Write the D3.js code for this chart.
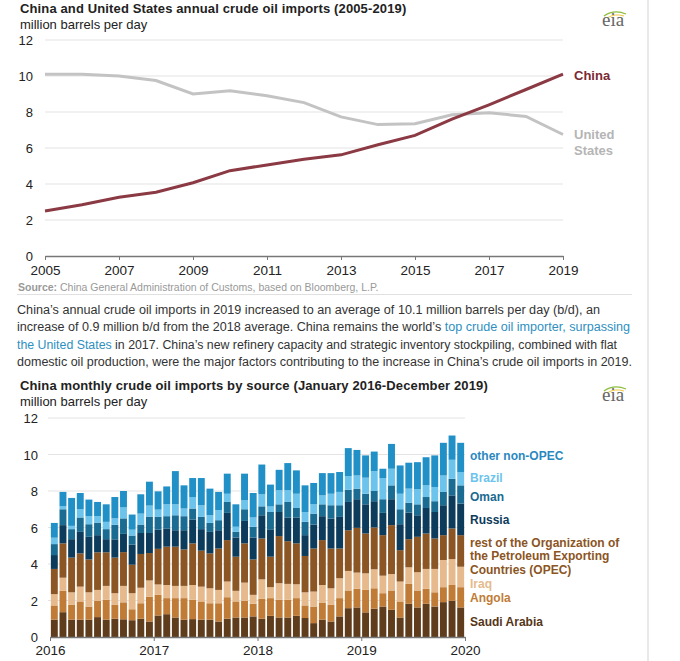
<!DOCTYPE html>
<html>
<head>
<meta charset="utf-8">
<script src="https://cdn.jsdelivr.net/npm/d3@7"></script>
<style>
  body { margin: 0; background: #fff; }
  svg { display: block; font-family: "Liberation Sans", Arial, sans-serif; }
</style>
</head>
<body>
<div id="containerDiv"></div>
<script>
// ---- annual imports (million b/d) ----
var years = [2005, 2006, 2007, 2008, 2009, 2010, 2011, 2012, 2013, 2014, 2015, 2016, 2017, 2018, 2019];
var chinaAnnual = [2.5, 2.85, 3.26, 3.54, 4.07, 4.74, 5.06, 5.37, 5.62, 6.18, 6.7, 7.6, 8.4, 9.25, 10.1];
var usAnnual = [10.1, 10.1, 10.0, 9.75, 9.0, 9.18, 8.9, 8.52, 7.73, 7.3, 7.35, 7.85, 7.96, 7.75, 6.75];
var yTicks1 = [0, 2, 4, 6, 8, 10, 12];
var xTicks1 = [2005, 2007, 2009, 2011, 2013, 2015, 2017, 2019];

// ---- monthly imports by source, Jan 2016 - Dec 2019 ----
var saudi = [0.95, 1.36, 0.95, 0.95, 0.95, 1.09, 0.95, 1.0, 0.97, 0.92, 1.0, 0.85,
             1.18, 1.25, 1.07, 0.95, 0.98, 0.95, 0.95, 0.85, 1.0, 1.07, 1.07, 1.13,
             1.0, 1.16, 1.07, 1.07, 1.16, 1.04, 0.76, 0.95, 0.85, 1.13, 1.58, 1.62,
             1.35, 1.55, 1.67, 1.49, 1.07, 1.82, 1.62, 1.82, 1.67, 1.91, 1.98, 1.62];
var angola = [0.78, 1.17, 0.81, 1.0, 0.72, 0.89, 1.09, 0.76, 0.93, 0.6, 0.85, 1.35,
              1.13, 0.88, 1.06, 1.18, 1.06, 1.0, 0.9, 1.0, 1.18, 0.88, 0.91, 0.69,
              1.09, 0.97, 0.97, 0.97, 0.97, 0.69, 0.91, 0.94, 0.91, 1.0, 0.97, 1.02,
              1.23, 1.12, 0.73, 1.06, 0.88, 1.09, 0.93, 0.82, 0.78, 0.82, 0.87, 1.11];
var iraq = [0.62, 0.72, 0.69, 0.81, 0.78, 0.6, 0.76, 0.64, 0.9, 0.88, 0.85, 0.9,
            0.57, 0.72, 0.67, 0.67, 0.81, 0.81, 0.82, 0.73, 0.86, 0.58, 1.0, 0.49,
            1.07, 0.6, 0.91, 0.87, 0.76, 0.72, 0.82, 0.96, 0.91, 1.09, 1.07, 0.89,
            0.91, 1.04, 0.96, 0.9, 1.09, 0.91, 1.0, 1.09, 1.28, 1.49, 1.42, 1.12];
var restOpec = [1.38, 1.88, 1.9, 1.82, 1.8, 2.06, 1.84, 1.95, 1.85, 1.56, 1.85, 1.5,
                1.95, 2.1, 2.15, 2.0, 2.28, 1.97, 1.91, 2.27, 2.27, 1.87, 2.15, 1.94,
                2.24, 1.67, 2.58, 2.34, 2.24, 1.99, 2.36, 2.46, 2.18, 1.63, 2.23, 2.45,
                2.18, 2.29, 2.22, 2.68, 1.72, 1.54, 1.94, 1.94, 1.67, 1.36, 1.68, 1.73];
var russia = [0.76, 1.0, 1.01, 1.18, 1.24, 0.94, 0.72, 1.0, 1.0, 1.1, 1.15, 1.1,
              1.05, 1.0, 0.9, 1.05, 1.31, 1.18, 1.18, 1.0, 1.49, 1.05, 1.23, 1.2,
              1.27, 1.5, 1.32, 1.3, 1.42, 1.14, 1.31, 1.31, 1.64, 1.73, 1.55, 1.57,
              1.6, 1.44, 1.22, 1.42, 1.42, 1.46, 1.18, 1.4, 1.45, 1.64, 1.81, 1.73];
var oman = [0.6, 0.87, 0.55, 0.79, 0.69, 0.69, 0.55, 0.8, 0.85, 0.5, 0.46, 0.9,
            0.7, 0.67, 0.82, 0.77, 0.6, 0.67, 0.49, 0.55, 0.6, 0.31, 0.64, 0.59,
            0.49, 0.95, 0.42, 0.85, 0.52, 0.73, 0.6, 0.65, 0.73, 0.64, 0.67, 0.58,
            0.58, 0.56, 0.75, 0.76, 0.82, 0.54, 0.6, 0.6, 0.59, 0.73, 0.91, 1.0];
var brazil = [0.35, 0.16, 0.18, 0.45, 0.44, 0.35, 0.4, 0.35, 0.6, 0.32, 0.6, 0.6,
              0.4, 0.65, 0.6, 0.42, 0.63, 0.64, 0.42, 0.55, 0.45, 0.28, 0.49, 0.51,
              0.66, 0.3, 0.77, 0.64, 0.78, 0.54, 0.51, 0.49, 0.63, 0.73, 0.75, 0.72,
              0.88, 1.09, 1.16, 0.91, 0.85, 0.77, 0.82, 0.64, 0.78, 0.9, 1.04, 0.73];
var otherNonOpec = [0.81, 0.79, 1.53, 0.89, 0.91, 0.78, 0.96, 1.17, 0.9, 0.83, 1.06, 1.31,
                    1.0, 0.98, 1.82, 1.27, 1.04, 1.49, 1.46, 1.0, 1.1, 1.23, 1.46, 1.34,
                    1.63, 1.2, 1.12, 1.49, 1.28, 1.46, 1.17, 1.22, 1.13, 1.09, 1.53, 1.4,
                    1.22, 1.07, 0.51, 1.36, 1.55, 1.42, 1.49, 1.54, 1.73, 1.79, 1.33, 1.6];
var yTicks2 = [0, 2, 4, 6, 8, 10, 12];
var yearLabels2 = ["2016", "2017", "2018", "2019", "2020"];

var seriesNames = ["Saudi Arabia", "Angola", "Iraq", "rest of OPEC", "Russia", "Oman", "Brazil", "other non-OPEC"];
var seriesValues = [saudi, angola, iraq, restOpec, russia, oman, brazil, otherNonOpec];
var seriesColors = ["#5f3c1b", "#c07c37", "#e6ba8c", "#8b5524", "#0c3b5b", "#1a6c92", "#6cc4ec", "#2190c7"];

var w = 680, h = 661;
var svg = d3.select("#containerDiv").append("svg").attr("width", w).attr("height", h);

// right border
svg.append("line").attr("x1", 648).attr("x2", 648).attr("y1", 0).attr("y2", h)
   .attr("stroke", "#e2e2e2").attr("stroke-width", 1.5);

function eiaLogo(x, y) {
  var g = svg.append("g").attr("transform", "translate(" + x + "," + y + ")");
  g.append("path").attr("d", "M2,-10 Q12,-17 24,-12").attr("fill", "none")
   .attr("stroke", "#8dbf3f").attr("stroke-width", 1.3);
  g.append("path").attr("d", "M5,-8 Q13,-13 22,-10").attr("fill", "none")
   .attr("stroke", "#f0c83c").attr("stroke-width", 1);
  g.append("text").text("eia").attr("font-family", "'Liberation Serif', 'DejaVu Serif', serif")
   .attr("font-size", "19px").attr("fill", "#666").attr("y", 0);
}

// ================= chart 1 =================
var x1 = d3.scaleLinear().domain([2005, 2019]).range([45, 563]);
var y1 = d3.scaleLinear().domain([0, 12]).range([256, 40]);

svg.append("text").attr("x", 20).attr("y", 13).text("China and United States annual crude oil imports (2005-2019)")
   .attr("font-weight", "bold").attr("font-size", "13px").attr("fill", "#222").attr("letter-spacing", "0.13px");
svg.append("text").attr("x", 20).attr("y", 29).text("million barrels per day")
   .attr("font-size", "13px").attr("fill", "#222");
eiaLogo(602, 26);

svg.append("g").selectAll("line").data(yTicks1.filter(function(d) { return d > 0; })).enter().append("line")
   .attr("x1", 45).attr("x2", 563)
   .attr("y1", function(d) { return y1(d); }).attr("y2", function(d) { return y1(d); })
   .attr("stroke", "#e3e3e3").attr("stroke-width", 1.2);

svg.append("g").selectAll("text").data(yTicks1).enter().append("text")
   .attr("x", 33).attr("y", function(d) { return y1(d) + 5; })
   .attr("text-anchor", "end").attr("font-size", "13px").attr("fill", "#222")
   .text(function(d) { return d; });

var xAxis1 = svg.append("g").attr("transform", "translate(0,256)")
   .call(d3.axisBottom(x1).tickValues(xTicks1).tickFormat(d3.format("d")).tickSize(4).tickSizeOuter(0));
xAxis1.select(".domain").attr("stroke", "#777").attr("stroke-width", 1.5);
xAxis1.selectAll(".tick line").attr("stroke", "#777");
xAxis1.selectAll(".tick text").attr("font-size", "13.5px").attr("fill", "#222").attr("dy", "0.9em")
   .attr("font-family", "'Liberation Sans', Arial, sans-serif");

var line1 = d3.line().x(function(d, i) { return x1(years[i]); }).y(function(d) { return y1(d); });
svg.append("path").datum(usAnnual).attr("d", line1).attr("fill", "none")
   .attr("stroke", "#c3c3c3").attr("stroke-width", 3);
svg.append("path").datum(chinaAnnual).attr("d", line1).attr("fill", "none")
   .attr("stroke", "#8b3a44").attr("stroke-width", 3);

svg.append("text").attr("x", 574).attr("y", 80).text("China")
   .attr("font-weight", "bold").attr("font-size", "13px").attr("fill", "#7a2a34");
svg.append("text").attr("x", 574).attr("y", 139).text("United")
   .attr("font-weight", "bold").attr("font-size", "13px").attr("fill", "#b5b5b5");
svg.append("text").attr("x", 574).attr("y", 155).text("States")
   .attr("font-weight", "bold").attr("font-size", "13px").attr("fill", "#b5b5b5");

var src = svg.append("text").attr("x", 18).attr("y", 291).attr("font-size", "10.5px").attr("fill", "#999");
src.append("tspan").attr("font-weight", "bold").text("Source:");
src.append("tspan").text(" China General Administration of Customs, based on Bloomberg, L.P.");
svg.append("line").attr("x1", 17).attr("x2", 632).attr("y1", 294.5).attr("y2", 294.5)
   .attr("stroke", "#e0e0e0").attr("stroke-width", 1);

// ================= paragraph =================
var para = [
  [["China\u2019s annual crude oil imports in 2019 increased to an average of 10.1 million barrels per day (b/d), an", 0]],
  [["increase of 0.9 million b/d from the 2018 average. China remains the world\u2019s ", 0], ["top crude oil importer, surpassing", 1]],
  [["the United States", 1], [" in 2017. China\u2019s new refinery capacity and strategic inventory stockpiling, combined with flat", 0]],
  [["domestic oil production, were the major factors contributing to the increase in China\u2019s crude oil imports in 2019.", 0]]
];
var paraEnds = [600, 630, 617, 632];
para.forEach(function(parts, i) {
  var t = svg.append("text").attr("x", 17).attr("y", 314 + i * 17.4).attr("font-size", "12.5px")
     .attr("textLength", paraEnds[i] - 17).attr("lengthAdjust", "spacingAndGlyphs");
  parts.forEach(function(p) {
    t.append("tspan").text(p[0]).attr("fill", p[1] ? "#2f8fbf" : "#333");
  });
});

// ================= chart 2 =================
var months = d3.range(48);
var xb = d3.scaleBand().domain(months).range([50, 465]).paddingInner(0.2).paddingOuter(0.1);
var xm = d3.scaleLinear().domain([0, 48]).range([50, 465]);
var y2 = d3.scaleLinear().domain([0, 12]).range([637, 418]);

svg.append("text").attr("x", 20).attr("y", 390).text("China monthly crude oil imports by source (January 2016-December 2019)")
   .attr("font-weight", "bold").attr("font-size", "13px").attr("fill", "#222").attr("letter-spacing", "0.13px");
svg.append("text").attr("x", 20).attr("y", 406).text("million barrels per day")
   .attr("font-size", "13px").attr("fill", "#222");
eiaLogo(602, 401);

svg.append("g").selectAll("line").data(yTicks2.filter(function(d) { return d > 0; })).enter().append("line")
   .attr("x1", 48).attr("x2", 465)
   .attr("y1", function(d) { return y2(d); }).attr("y2", function(d) { return y2(d); })
   .attr("stroke", "#e3e3e3").attr("stroke-width", 1.2);

svg.append("g").selectAll("text").data(yTicks2).enter().append("text")
   .attr("x", 38).attr("y", function(d) { return y2(d) + 5; })
   .attr("text-anchor", "end").attr("font-size", "13px").attr("fill", "#222")
   .text(function(d) { return d; });

var table = months.map(function(i) {
  var row = { m: i };
  seriesNames.forEach(function(n, k) { row[n] = seriesValues[k][i]; });
  return row;
});
var stacked = d3.stack().keys(seriesNames)(table);

svg.append("g").selectAll("g").data(stacked).enter().append("g")
   .attr("fill", function(d, k) { return seriesColors[k]; })
   .selectAll("rect").data(function(d) { return d; }).enter().append("rect")
   .attr("x", function(d) { return xb(d.data.m); })
   .attr("width", xb.bandwidth())
   .attr("y", function(d) { return y2(d[1]); })
   .attr("height", function(d) { return y2(d[0]) - y2(d[1]); });

var xAxis2 = svg.append("g").attr("transform", "translate(0,637)")
   .call(d3.axisBottom(xm).tickValues([0, 12, 24, 36, 48])
   .tickFormat(function(d) { return yearLabels2[d / 12]; }).tickSize(4).tickSizeOuter(0));
xAxis2.select(".domain").attr("stroke", "#777").attr("stroke-width", 1.5);
xAxis2.selectAll(".tick line").attr("stroke", "#777");
xAxis2.selectAll(".tick text").attr("font-size", "13.5px").attr("fill", "#222").attr("dy", "0.85em")
   .attr("font-family", "'Liberation Sans', Arial, sans-serif");

// legend labels at the right of the bars
var legend = [
  ["other non-OPEC", 460, "#2a88bf"],
  ["Brazil", 482, "#6cc4ec"],
  ["Oman", 501, "#1a6a90"],
  ["Russia", 524, "#0c3b5b"],
  ["rest of the Organization of", 547, "#8b5524"],
  ["the Petroleum Exporting", 560, "#8b5524"],
  ["Countries (OPEC)", 574, "#8b5524"],
  ["Iraq", 588, "#e6ba8c"],
  ["Angola", 602, "#c07c37"],
  ["Saudi Arabia", 626, "#553617"]
];
svg.append("g").selectAll("text").data(legend).enter().append("text")
   .attr("x", 470).attr("y", function(d) { return d[1]; })
   .attr("font-weight", "bold").attr("font-size", "12px")
   .attr("fill", function(d) { return d[2]; })
   .text(function(d) { return d[0]; });
</script>
</body>
</html>
